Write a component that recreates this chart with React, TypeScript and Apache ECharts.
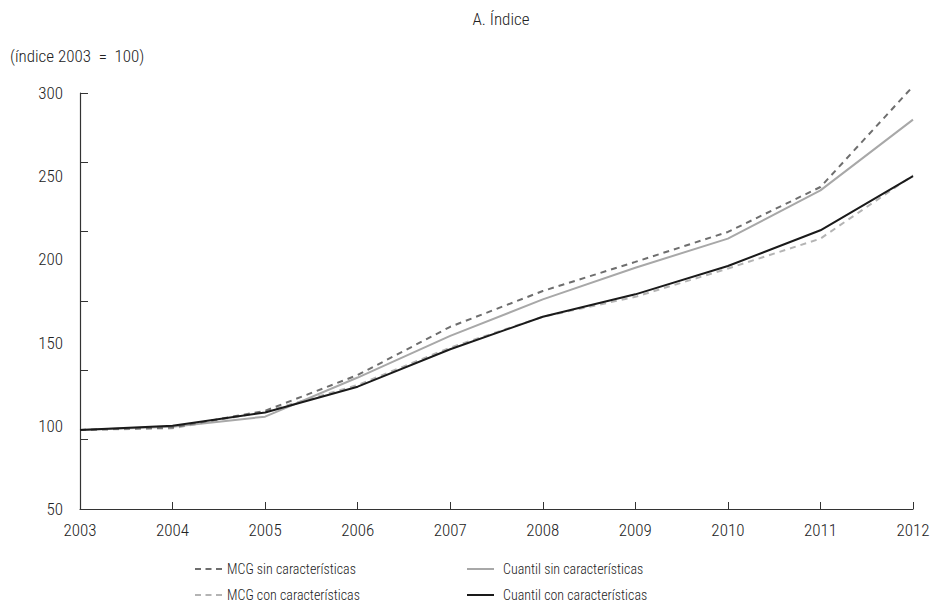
import React, { useEffect, useRef } from "react";
import * as echarts from "echarts";

const years = ["2003", "2004", "2005", "2006", "2007", "2008", "2009", "2010", "2011", "2012"];
const mcgSin = [97.5, 99, 109, 130.5, 159.5, 181, 198.5, 216.5, 243.5, 304];
const mcgCon = [97.5, 98.5, 108.5, 124.5, 147, 165.5, 177.5, 194.5, 212.5, 250.5];
const cuantilSin = [97.5, 99.5, 105.5, 129, 154, 176, 195, 212.5, 241.5, 284];
const cuantilCon = [97.5, 100, 108, 123.5, 146, 165.5, 179, 196, 217.5, 250];

const FONT = "'Roboto Condensed', 'Liberation Sans Narrow', Roboto, sans-serif";
const DASH_ICON = "path://M0,0h6v2h-6z M10.5,0h6v2h-6z M21,0h6v2h-6z";
const SOLID_ICON = "path://M0,0h27v2h-27z";

export default function App() {
  const ref = useRef<HTMLDivElement>(null);
  useEffect(() => {
    if (!ref.current) return;
    const chart = echarts.init(ref.current, null, { renderer: "svg" });
    const textStyle = { fontFamily: FONT, fontSize: 17, color: "#222", fontWeight: 300 };
    const mkLegend = (
      name: string,
      left: number,
      top: number,
      icon: string,
      color: string,
      pad: number
    ) => ({
      left,
      top,
      padding: 0,
      itemWidth: 27,
      itemHeight: 2,
      itemGap: 10,
      icon,
      data: [{ name, icon, itemStyle: { color } }],
      textStyle: { ...textStyle, fontSize: 14, padding: [0, 0, 0, pad] },
    });
    chart.setOption({
      animation: false,
      textStyle,
      title: {
        text: "A. Índice",
        left: 496,
        textAlign: "center",
        top: 5,
        textStyle: { ...textStyle, fontSize: 17 },
      },
      graphic: [
        {
          type: "text",
          left: 10,
          top: 47,
          style: {
            text: "(índice 2003\u00A0 = \u00A0100)",
            font: `300 17px ${FONT}`,
            fill: "#222",
          },
        },
      ],
      grid: { left: 80, right: 22, top: 93, bottom: 99 },
      legend: [
        mkLegend("MCG sin características", 195, 562, DASH_ICON, "#6e6e6e", 0),
        mkLegend("MCG con características", 195, 588, DASH_ICON, "#b4b4b4", 0),
        mkLegend("Cuantil sin características", 467, 562, SOLID_ICON, "#a8a8a8", 4),
        mkLegend("Cuantil con características", 467, 588, SOLID_ICON, "#1a1a1a", 4),
      ],
      xAxis: {
        type: "category",
        data: years,
        boundaryGap: false,
        axisLine: { lineStyle: { color: "#333", width: 1.2 } },
        axisTick: { inside: true, length: 7, lineStyle: { color: "#333" } },
        axisLabel: { ...textStyle, margin: 12 },
        splitLine: { show: false },
      },
      yAxis: [
        {
          type: "value",
          min: 50,
          max: 300,
          interval: 50,
          offset: 17,
          axisLine: { show: false },
          axisTick: { show: false },
          axisLabel: { ...textStyle, margin: 0 },
          splitLine: { show: false },
        },
        {
          type: "value",
          min: 0,
          max: 6,
          interval: 1,
          position: "left",
          axisLine: { show: true, lineStyle: { color: "#333", width: 1.2 } },
          axisTick: { show: true, inside: true, length: 8, lineStyle: { color: "#333" } },
          axisLabel: { show: false },
          splitLine: { show: false },
        },
      ],
      series: [
        {
          name: "MCG sin características",
          type: "line",
          data: mcgSin,
          symbol: "none",
          clip: false,
          lineStyle: { color: "#6e6e6e", width: 2, type: [6, 5] },
          itemStyle: { color: "#6e6e6e" },
          z: 3,
        },
        {
          name: "MCG con características",
          type: "line",
          data: mcgCon,
          symbol: "none",
          clip: false,
          lineStyle: { color: "#b4b4b4", width: 2, type: [6, 5] },
          itemStyle: { color: "#b4b4b4" },
          z: 2,
        },
        {
          name: "Cuantil sin características",
          type: "line",
          data: cuantilSin,
          symbol: "none",
          clip: false,
          lineStyle: { color: "#a8a8a8", width: 2 },
          itemStyle: { color: "#a8a8a8" },
          z: 2,
        },
        {
          name: "Cuantil con características",
          type: "line",
          data: cuantilCon,
          symbol: "none",
          clip: false,
          lineStyle: { color: "#1a1a1a", width: 2 },
          itemStyle: { color: "#1a1a1a" },
          z: 4,
        },
      ],
    });
    return () => chart.dispose();
  }, []);
  return <div ref={ref} style={{ width: 935, height: 608, position: "absolute", left: 0, top: 0 }} />;
}
